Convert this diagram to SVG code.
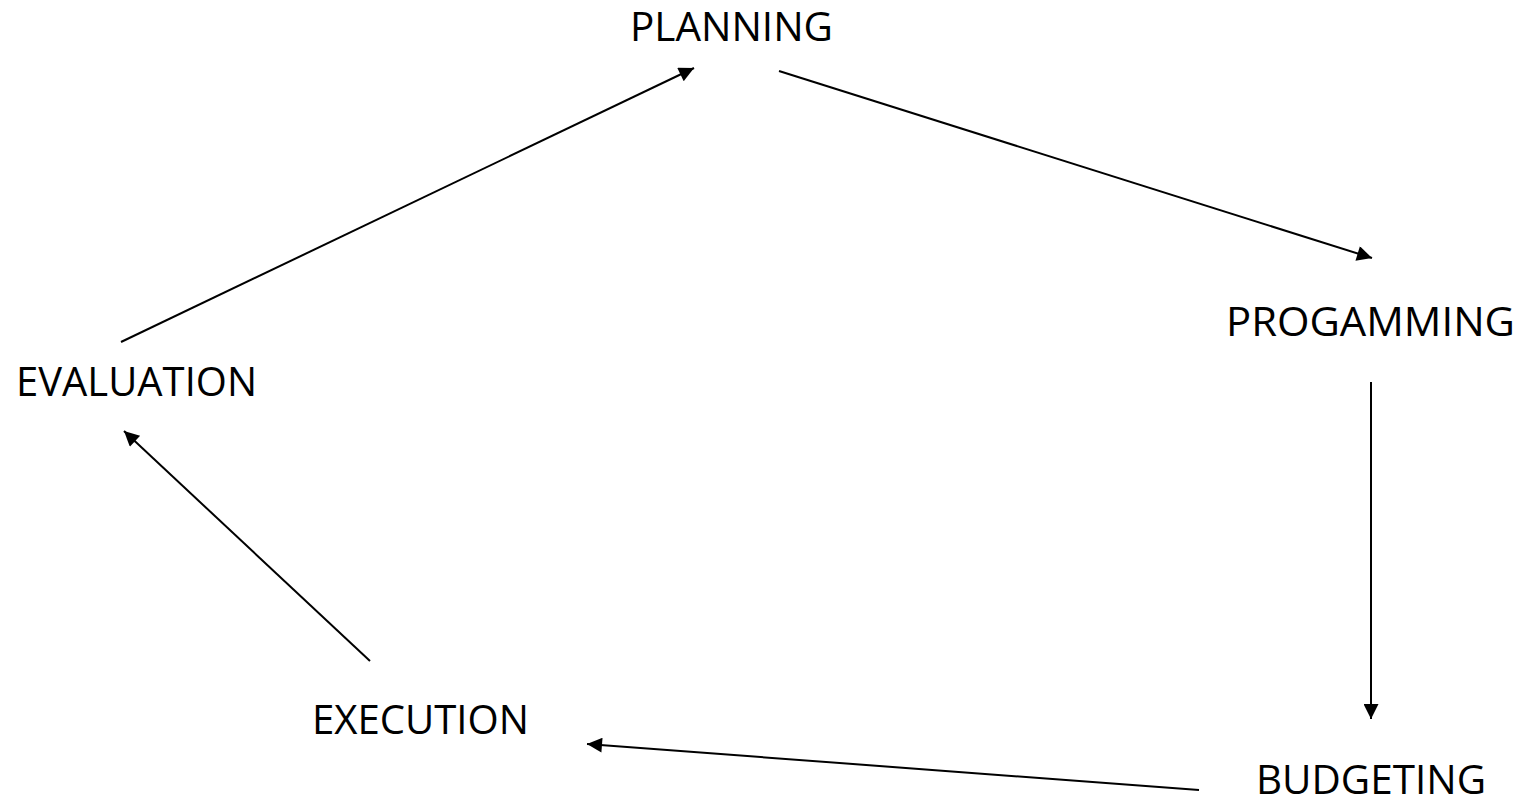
<svg xmlns="http://www.w3.org/2000/svg" width="1524" height="805" viewBox="0 0 1524 805">
<style>
.lbl{font-family:"Open Sans","Liberation Sans",sans-serif;font-size:40px;fill:#000}
.con{stroke:#000;stroke-width:2;fill:none;marker-end:url(#ah)}
</style>
<defs>
<marker id="ah" viewBox="0 0 10 10" refX="10" refY="5" markerWidth="18" markerHeight="15" markerUnits="userSpaceOnUse" orient="auto">
<path d="M0,0 L10,5 L0,10 Z" fill="#000"/>
</marker>
</defs>
<rect width="1524" height="805" fill="#fff"/>
<g id="connectors">
<line class="con" x1="121" y1="342" x2="694" y2="68"/>
<line class="con" x1="779" y1="71" x2="1372" y2="258"/>
<line class="con" x1="1371" y1="382" x2="1371" y2="719"/>
<line class="con" x1="1199" y1="790" x2="587" y2="744"/>
<line class="con" x1="370" y1="661" x2="124" y2="431"/>
</g>
<g id="planning"><text class="lbl" x="630" y="41" textLength="203" lengthAdjust="spacingAndGlyphs">PLANNING</text></g>
<g id="programming"><text class="lbl" x="1226" y="336" textLength="289" lengthAdjust="spacingAndGlyphs">PROGAMMING</text></g>
<g id="budgeting"><text class="lbl" x="1256" y="794" textLength="230" lengthAdjust="spacingAndGlyphs">BUDGETING</text></g>
<g id="execution"><text class="lbl" x="312" y="734" textLength="217" lengthAdjust="spacingAndGlyphs">EXECUTION</text></g>
<g id="evaluation"><text class="lbl" x="16" y="396" textLength="241" lengthAdjust="spacingAndGlyphs">EVALUATION</text></g>
</svg>
